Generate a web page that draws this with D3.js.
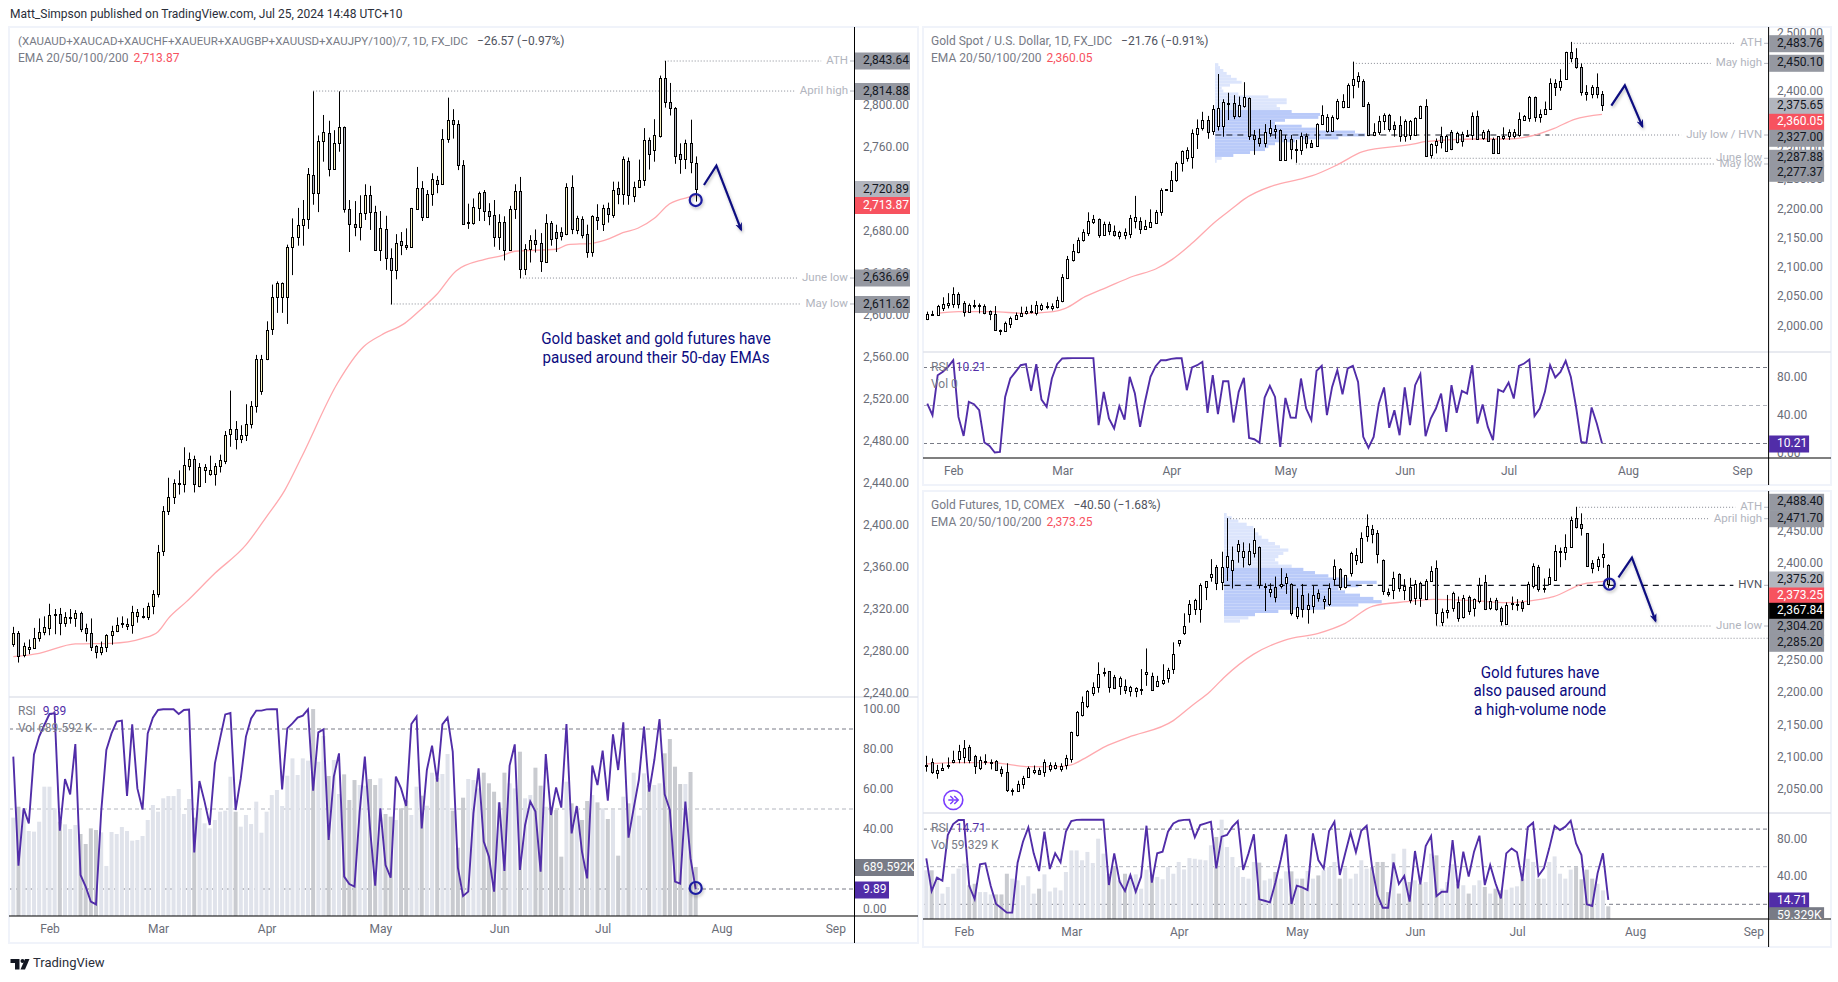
<!DOCTYPE html>
<html>
<head>
<meta charset="utf-8">
<script src="https://cdn.jsdelivr.net/npm/d3@7"></script>
<style>
html, body { margin: 0; background: #fff; }
svg { display: block; }
text { font-family: Roboto, "Noto Sans", sans-serif; }
</style>
</head>
<body>
<script>
// ---- data ----
var months = ["Feb", "Mar", "Apr", "May", "Jun", "Jul", "Aug", "Sep"];

// basket, daily [open, high, low, close]
var basketOhlc = [
[2287,2303,2284,2297],[2297,2299,2269,2275],[2276,2288,2274,2285],[2282,2291,2277,2284],[2283,2302,2282,2292],[2292,2311,2289,2298],[2298,2313,2295,2303],[2302,2325,2295,2314],[2314,2320,2296,2315],[2315,2321,2295,2307],
[2307,2317,2303,2312],[2312,2320,2306,2312.5],[2311,2319,2303,2316],[2316,2317.5,2298,2301],[2302,2306,2289,2297],[2297,2311,2280,2284],[2284.5,2285.5,2273,2279],[2279,2289,2276,2283.5],[2283.5,2296,2279,2295],[2295,2304,2286,2299],
[2299,2312,2298,2305],[2306,2313,2302,2307],[2304,2311,2300,2306],[2304.5,2323,2296.5,2317],[2313,2320,2307,2317],[2312,2321,2311,2313],[2312,2326,2309.5,2322.5],[2322.5,2338,2315,2334],[2334,2381,2331,2374],[2375,2418,2370.5,2413],
[2413,2445,2409.5,2427],[2427,2443.5,2420,2440],[2439.5,2452,2429,2440],[2439,2474,2431,2457],[2456.5,2469,2452,2462.5],[2462.5,2466,2431,2439],[2437.5,2459,2436,2455],[2452,2458,2440,2455],[2449,2466,2447,2452],[2449,2459,2437.5,2456],
[2456,2467,2450,2461.5],[2461,2489.5,2458,2486],[2486.5,2528,2474.5,2491],[2491,2499,2472,2482],[2482,2495,2478,2485.5],[2485.5,2515,2480,2496],[2496,2518,2492,2513],[2513,2562,2507,2558],[2528,2562,2524,2558],[2558,2594,2557,2586],
[2587,2629,2581,2617],[2617,2632,2602,2630.5],[2617,2631,2602,2630.5],[2617,2667,2591.5,2665],[2664.5,2692,2638,2674],[2674,2702,2666,2686],[2686,2709.5,2666,2691],[2691,2740,2682,2734],[2733,2813,2705,2716],[2716,2771,2698,2766],
[2766,2790.5,2746,2774],[2773,2785,2732,2739],[2739.5,2776,2739,2763.5],[2763.5,2813,2755.5,2779],[2779,2779.5,2697.5,2700.5],[2700.5,2709.5,2660,2687],[2687,2708.5,2675,2683.5],[2683.5,2714,2671,2697],[2697,2724.5,2690.5,2714],[2714,2723,2681,2698],
[2698,2704,2661,2662],[2662,2699,2651.5,2682.5],[2681.5,2694.5,2643,2654],[2654,2663.5,2610,2643],[2643,2677,2634,2669],[2670,2679,2657,2667],[2667,2682.5,2662,2665],[2665,2702,2664,2702],[2701,2741,2700,2721],[2721,2727.5,2689.5,2693],
[2693,2719,2692.5,2715],[2715,2735,2704,2730],[2729,2732.5,2716,2724.5],[2724.5,2777,2724,2768],[2768,2807,2764,2786],[2786,2796,2768,2782],[2782,2785.5,2738,2742.5],[2742.5,2747.5,2687,2687],[2688,2706,2682,2688.5],[2688,2711,2686,2703],
[2702,2717.5,2689.5,2716.5],[2717,2719,2689.5,2699.5],[2699.5,2706.5,2685.5,2694.5],[2695,2709.5,2665,2674],[2674,2696,2662,2689],[2689,2694,2652,2662],[2662,2704,2661,2700.5],[2700.5,2724.5,2691.5,2718],[2718,2731.5,2635,2643.5],[2643.5,2667.5,2638,2662.5],
[2662.5,2676,2650,2671],[2671,2681.5,2659.5,2668],[2669,2678,2641,2651],[2650.5,2696,2650,2688],[2688,2689.5,2666,2672],[2679,2686,2660,2673],[2679,2683.5,2671,2675.5],[2677,2725.5,2676,2721.5],[2721.5,2733,2677,2682],[2681,2694.5,2677,2692],
[2691,2694,2673,2676],[2677,2686,2654.5,2660],[2660,2695,2655.5,2694.5],[2693,2705.5,2681,2690],[2686.5,2705,2680,2701.5],[2701.5,2707,2688,2696],[2695.5,2727,2692.5,2719.5],[2720.5,2727,2705.5,2715],[2715,2751,2705,2749],[2747,2750,2705,2714],
[2713.5,2727,2707.5,2721.5],[2721.5,2748,2721.5,2729],[2729,2778,2723,2767],[2766.5,2769,2738.5,2753],[2757,2786.5,2746,2771],[2770.5,2828,2769,2826],[2825.5,2842,2797.5,2802.5],[2802.5,2821,2790,2797],[2797,2798,2744,2751],[2753,2763.5,2734.5,2748.5],
[2748.5,2767,2739,2763.5],[2763.5,2786,2735,2746],[2745,2751,2708,2720]
];
var basketEmaBars = [0,5,12,19,25,28,30,33.5,39,45,49,52.5,55.8,62.7,67.8,71.2,75.7,79,81.8,85.7,91.2,94.7,97,105,107.3,112,115.3,117.9,120.8,124,126.9,131.1,132];
var basketEmaValues = [2274.6,2277.8,2286.7,2287.3,2292,2298.4,2311.1,2327,2354,2381,2408,2433,2465,2535,2570,2581,2592,2606,2619,2642.2,2653,2656.9,2660.7,2662.6,2667,2668.3,2672.7,2678.4,2682.6,2692.1,2705.7,2712.7,2713.87];
var basketRsi = [76.2,21.7,50.3,42.8,77.3,86.2,92,97.5,97.8,39.2,65,57.3,82.5,17,11.2,3.7,2.3,48.7,79.5,87.8,93.7,94.2,56.5,92.3,60.3,49.8,87.8,95.7,99.5,99.9,99.9,99.9,97.5,99.5,99.7,28.3,64,53.7,42,72.8,85.3,97.3,98,49.5,65.3,86.2,95.3,99.2,99.2,99.8,99.9,99.9,59.8,90.3,92.8,95.7,96.7,99.8,59.2,88.3,89.8,34.5,66.2,77.8,16.2,12.5,11.2,48.7,76.2,40.3,11.7,50.3,22,15.7,66.2,60.3,51.5,92.5,96.2,40.3,69.5,81.7,63.7,92.3,95.7,78.7,20.7,6.5,8.7,47.8,70.3,33.7,26.2,8.7,53.3,19,71.7,82.3,19.5,42,53.7,48.7,18.7,77.5,47,60.8,50.7,92.5,37.8,51.5,28.7,15.3,71.7,62,79.2,54.2,87.3,69.5,93.3,35.7,50.3,64.5,91.2,58.7,74.5,95,57.3,49.5,13.7,12.7,53.7,25.3,9.89];
var basketVol = [1384,1538,1491,1196,1187,1327,1820,1820,1515,1327,1290,1224,1280,1154,1013,1233,1210,1177,704,1182,1154,1252,1196,1060,1069,1126,1351,1562,1468,1656,1688,1688,1787,1435,1646,1384,1491,1304,1233,1351,1468,1482,1960,1468,1257,1421,1294,1609,1172,1468,1702,1773,1548,1974,2218,1984,2218,2186,2912,2171,2533,1970,2195,1717,1993,1632,1913,1843,1834,1928,1843,1937,1435,1398,1351,1515,1623,1421,1820,1693,1552,2017,1946,1998,2279,1482,961,1665,1928,1913,1796,2017,1867,1749,1599,2017,1867,1796,2312,1656,1702,2087,1834,1538,1538,1491,835,1890,1585,1538,1351,1618,1702,1599,1515,1365,1491,849,1679,1585,2017,1412,2007,1843,1843,1867,2289,2490,2101,1857,1857,2026,689.592];
var basketTicks = [2800,2760,2680,2640,2600,2560,2520,2480,2440,2400,2360,2320,2280,2240];
var basketMonthBars = [7,28,49,71,94,114,137,159];
var basketLevelLabels = ["ATH", "April high", "June low", "May low"];
var basketLevelPrices = [2841.9, 2813.3, 2635.2, 2610.5];
var basketLevelBars = [126, 58, 98, 73];

// gold spot
var spotOhlc = [
[2011.5,2023.5,2009,2019],[2017,2025,2017,2019],[2017,2035,2016,2032.5],[2029,2048,2024.5,2036],[2035,2055,2029,2038],[2037,2065,2030,2053],[2053,2056.5,2029,2037],[2037.5,2041.5,2015,2023.5],[2023.5,2037.5,2021.5,2034],[2033,2043.5,2029,2034],
[2034,2037.5,2020.5,2033],[2033,2036,2019,2020.5],[2024.5,2025.5,2009,2019],[2019,2033,1990.5,1992],[1992,1993,1983.5,1992],[1991,2006.5,1991,2003.5],[2003,2015,1995.5,2012],[2011.5,2022,2011.5,2017],[2016.5,2032,2015.5,2022],[2022,2032,2018.5,2024.5],
[2023,2035,2020.5,2024.5],[2022,2041.5,2017,2034],[2028.5,2037.5,2025,2034],[2031.5,2039.5,2027.5,2033],[2029,2037.5,2025.5,2033],[2032,2049,2029,2043],[2042,2087.5,2039.5,2082],[2081,2118.5,2079,2112.5],[2111.5,2139,2109,2126.5],[2125,2150,2123,2145.5],
[2145.5,2164,2143,2159],[2158,2193,2152.5,2177.5],[2176.5,2188.5,2173,2181],[2181,2182.5,2149.5,2155],[2155,2177,2153.5,2173],[2172.5,2177,2154,2160.5],[2160.5,2170.5,2151.5,2153.5],[2153,2161.5,2147,2159],[2155,2165.5,2147,2159],[2156,2188.5,2149,2184],
[2179,2221,2165.5,2184.5],[2178.5,2184.5,2156,2164],[2164,2180,2163.5,2169],[2168.5,2198,2167,2176.5],[2175,2197,2173,2193],[2193,2234,2187,2230.5],[2231,2232,2231,2232],[2229,2263.5,2228,2248.5],[2248.5,2279.5,2245,2276.5],[2277.5,2298.5,2262.5,2297],
[2286,2304,2279.5,2298.5],[2288,2334.5,2267.5,2327.5],[2326.5,2351.5,2301,2336.5],[2336.5,2364.5,2332.5,2350],[2350,2357.5,2318.5,2330.5],[2331,2376,2325,2368.5],[2341,2429,2332.5,2370.5],[2341,2386,2322,2380.5],[2379,2397,2350.5,2380],[2379,2393,2352,2357.5],
[2358,2390.5,2355,2375.5],[2375,2415,2371.5,2389],[2388.5,2389,2316.5,2324],[2325.5,2333.5,2291,2318.5],[2320,2335.5,2305,2310.5],[2312,2343.5,2304,2329.5],[2329,2350.5,2322,2336.5],[2332,2342,2318.5,2334.5],[2333.5,2334.5,2281,2282],[2282,2325,2281,2318],
[2318,2325,2283.5,2300.5],[2300.5,2316.5,2277.4,2301],[2300,2329,2291,2324],[2324,2327.5,2302,2312],[2312,2316.5,2304,2305],[2306,2345,2305,2343],[2343,2375.5,2343,2358.5],[2332.5,2360.5,2329,2356],[2332.5,2358.5,2332,2355],[2354,2386.5,2350.5,2383.5],
[2373,2394.5,2370.5,2383.5],[2373,2413,2373,2411],[2411,2450.1,2387.5,2421],[2417.5,2432,2405.5,2425.5],[2417.5,2420,2373,2375],[2378,2381,2323,2325],[2325,2345,2323,2330.5],[2330.5,2357.5,2325,2349],[2349.5,2362,2333.5,2359],[2359,2361,2330.5,2335],
[2342,2348,2322,2334.5],[2341.5,2357,2313.5,2324],[2324,2351.5,2313.5,2349],[2324.5,2350.5,2316.5,2349],[2324.5,2355,2324,2353.5],[2353.5,2375,2353,2374.5],[2374,2386,2287.9,2289],[2291,2310.5,2285,2309],[2308,2319,2293.5,2314.5],[2323,2339,2302,2313.5],
[2298,2325,2296.5,2323],[2329.5,2333.5,2299,2301],[2313.5,2330.5,2310.5,2328],[2327,2330.5,2305,2315.5],[2324.5,2333.5,2322,2325.5],[2324.5,2363.5,2316.5,2357.5],[2357.5,2366.5,2316.5,2318],[2319,2333.5,2316.5,2330.5],[2332,2334.5,2313.5,2315.5],[2318,2320.5,2293.5,2295],
[2295,2323,2295,2323],[2319,2338,2316.5,2323],[2324,2334.5,2316.5,2329.5],[2323,2335,2319,2329.5],[2325,2363.5,2322,2351.5],[2350.5,2359,2349.5,2357.5],[2353.5,2391.5,2347.5,2390.5],[2389,2390.5,2347.5,2355],[2356,2368.5,2346,2360],[2360,2382,2359,2368.5],
[2369,2421.5,2367.5,2413],[2413,2420,2391.5,2407.5],[2407.5,2437,2400.5,2417.5],[2420,2467,2419,2466],[2466,2483.8,2449,2456],[2456,2473,2438,2441.5],[2441.5,2447,2392,2397.5],[2397.5,2410,2383.5,2394.5],[2394.5,2410,2387.5,2406],[2406,2430,2387.5,2394.5],[2394.5,2400,2366,2375.65]
];
var spotEmaBars = [1.8,6,12.4,18.8,24.3,26.6,30.4,34.6,39.8,44,47.2,51,55.5,58.8,61,66.8,71.6,74.2,79,83.9,93.8,95.8,105.4,111.8,116.3,120.8,124.7,130];
var spotEmaValues = [2020.6,2023.4,2023.4,2020.6,2023.4,2029,2049,2065,2084.3,2096.2,2112.7,2140,2177,2199.8,2215.1,2239,2249.2,2255.5,2274,2296.5,2309.6,2313.6,2318.1,2318.1,2323.2,2336.3,2351.7,2360.05];
var spotRsi = [52,39.8,81.9,85.4,90.7,97.7,38,18,53.8,51.4,45,11,7.5,0.5,1.2,59,78.4,85.4,92.4,93.5,65.4,93.5,56.3,48.6,78.4,93.5,99.5,99.8,99.9,99.9,99.9,99.9,99.9,29.3,64.4,36.3,25.8,49.3,35.2,80.2,62.6,27.5,55.6,80.2,91.4,97.7,97.7,99.1,99.8,99.9,66.1,90,92.4,96,42.3,81.9,40.9,75.6,75.6,32.1,64.4,79.1,15.9,14.5,10.7,58.4,70.7,59,6.5,58,37.3,37,78.4,46.8,34.5,86.5,91.8,39.8,69.6,87.2,61.9,89,91.8,74.9,17,5.4,17,52,69,26.5,45,18.7,69,29.3,71.4,83,17.7,36.3,46.8,62.6,22.2,71.4,42.3,65.4,62.6,92.4,31,51,27.5,13.5,66.8,64.4,74.2,57.3,91.8,94.2,98.4,38.8,46.8,64.4,92.4,79.5,85.4,97,80,48.6,11.7,10.7,47.9,31,10.21];
var spotProfilePrices = [2445,2440,2435,2430,2425,2420,2415,2410,2405,2400,2395,2390,2385,2380,2375,2370,2365,2360,2355,2350,2345,2340,2335,2330,2325,2320,2315,2310,2305,2300,2295,2290,2285,2280];
var spotProfileVol = [10,15,25,35,48,65,80,45,20,25,70,160,215,215,185,195,230,315,310,210,180,260,310,420,450,370,240,180,160,150,105,55,20,5];
var spotTicks = [2500,2400,2300,2250,2200,2150,2100,2050,2000];
var spotMonthBars = [5,26,47,69,92,112,135,157];
var spotLevelLabels = ["ATH", "May high", "July low / HVN", "June low", "May low"];
var spotLevelPrices = [2481.4, 2447.1, 2324.9, 2285.2, 2275.4];
var spotLevelBars = [124, 82, 119.8, 97, 71];

// gold futures
var futuresOhlc = [
[2085,2101,2076.5,2087],[2092,2097,2073,2075.5],[2075,2087,2065.5,2078.5],[2078.5,2089.5,2078,2081.5],[2086.5,2098.5,2081,2087],[2092,2109,2089.5,2094.5],[2096,2118,2089.5,2109],[2100,2125.5,2089.5,2112.5],[2114,2118,2089.5,2094.5],[2100.5,2102.5,2073,2084.5],
[2082.5,2100,2079,2094],[2093,2103.5,2087,2093.5],[2089.5,2095.5,2080,2092],[2092.5,2094.5,2078,2079],[2080,2084.5,2068.5,2075],[2075.5,2089.5,2045,2048],[2046.5,2050.5,2039.5,2048],[2047,2062.5,2045.5,2057],[2058,2070,2050,2066],[2068.5,2084.5,2067,2081.5],
[2076,2086,2072.5,2078.5],[2078.5,2082.5,2072.5,2072.5],[2075.5,2095.5,2068.5,2091],[2081,2091,2076.5,2087],[2082.5,2091,2080,2086.5],[2081,2089.5,2076.5,2084.5],[2086.5,2102.5,2080,2097],[2095.5,2138.5,2090.5,2137.5],[2133,2170.5,2131,2169],[2164.5,2193,2162,2184],
[2178.5,2203,2175,2201],[2199,2215,2194,2207.5],[2208.5,2246,2199,2228],[2230,2237.5,2224,2231],[2232,2232.5,2199,2208.5],[2223,2226.5,2204.5,2205.5],[2210,2224,2195.5,2221],[2209,2219.5,2197,2203.5],[2202,2209.5,2193,2207.5],[2202,2207.5,2192,2205.5],
[2204,2235.5,2195.5,2204.5],[2227.5,2267.5,2209.5,2231.5],[2225.5,2230,2202,2202.5],[2209,2225,2207.5,2217.5],[2214,2243,2211,2219],[2221,2237.5,2214.5,2234],[2236,2277,2228,2258.5],[2276.5,2280.5,2270.5,2280],[2291.5,2322,2288.5,2302],[2321.5,2342.5,2307.5,2336.5],
[2328,2344.5,2319.5,2342.5],[2329,2368.5,2307.5,2366],[2363.5,2372,2342.5,2371.5],[2378.5,2406,2371,2382.5],[2393.5,2397,2358,2368.5],[2371,2417.5,2358,2393.5],[2394.5,2469.5,2372,2411],[2389.5,2425.5,2360.5,2404.5],[2419,2435.5,2400.5,2429],[2409,2432,2393,2418.5],
[2398,2430.5,2396,2418.5],[2415,2454,2408.5,2435],[2424.5,2425.5,2360.5,2366],[2362.5,2368.5,2325.5,2364.5],[2355.5,2368.5,2347,2360],[2362.5,2379,2339,2348],[2365,2392,2360.5,2367],[2368.5,2384,2352,2378],[2367,2368.5,2318.5,2323],[2318.5,2360.5,2313,2331.5],
[2350,2367.5,2315.5,2329],[2329,2353,2306,2334.5],[2333.5,2364.5,2322,2351],[2354,2359,2340,2345],[2341,2349,2328.5,2343.5],[2336.5,2368.5,2333.5,2360.5],[2374.5,2405.5,2366,2395.5],[2390,2392,2358,2363.5],[2362.5,2381.5,2360.5,2381],[2384,2417.5,2379,2415],
[2404.5,2423,2397,2412],[2402,2447.5,2399.5,2438.5],[2442.5,2475.4,2433,2458],[2452,2459,2430.5,2445.5],[2446,2451,2399.5,2413.5],[2404.5,2405.5,2350.5,2357],[2354.5,2360.5,2348,2351.5],[2358,2386.5,2344,2376],[2382.5,2384,2355.5,2361.5],[2358,2375,2342.5,2364.5],
[2362.5,2377,2337.5,2342.5],[2345,2373.5,2335,2367],[2368.5,2371,2332,2345],[2344,2375,2342.5,2372.5],[2372.5,2395,2372.5,2388],[2392.5,2404,2302.8,2322],[2308,2329.5,2302.3,2324.5],[2323.5,2350.5,2314,2326.5],[2330.5,2355.5,2324.5,2353],[2340,2348,2309,2315],
[2317,2350.5,2314,2346.5],[2347.5,2349.5,2319.5,2326],[2330.5,2345,2317,2344],[2341,2377,2337.5,2366],[2371,2381.5,2327,2328],[2330,2346,2327,2341.5],[2343,2346,2326,2328],[2329.5,2332.5,2303,2310],[2306,2339,2305,2335],[2337,2348,2327,2338],
[2334.5,2344,2326,2337],[2339,2342.5,2324.5,2330.5],[2336,2371,2335,2367],[2364.5,2399.5,2360.5,2395],[2394,2397,2355.5,2359.5],[2360.5,2376,2354,2361.5],[2368,2391.5,2367,2378],[2374,2428,2374,2419],[2418.5,2424,2393.5,2419],[2416.5,2444.5,2404.5,2425.5],
[2424.5,2472,2424,2466],[2470.5,2487,2453.5,2456],[2460,2477,2442.5,2453.5],[2446,2446.5,2394.5,2396],[2400.5,2404.5,2384,2391.5],[2396,2410,2387.5,2405.5],[2409,2430.5,2392.5,2413.5],[2396.5,2398,2361.5,2367.84]
];
var futuresEmaBars = [0,6,12.2,15.9,19,24.6,27,29.5,33.3,37.6,46,49.4,52.8,55.6,60.9,66.8,73,78,83.2,89.5,94.4,101.9,108,114.3,116.8,122,126.7,127];
var futuresEmaValues = [2088.4,2090.5,2090.5,2086.9,2084.3,2084.3,2086.9,2097.2,2115.3,2129.7,2155.6,2178.3,2200.5,2223.8,2258.4,2280.6,2291,2306.5,2333.3,2340,2343.6,2341.6,2338.5,2343.6,2347.8,2366.9,2372.6,2373.25];
var futuresRsi = [58.9,24.1,38.3,35.1,83.7,95.4,99.7,99.7,29.4,15.6,52.5,53.6,29.4,10.3,5.7,1.1,1.1,54.3,76.6,91.9,64.2,45.4,87.3,47.5,64.2,54.6,87.3,98.6,99.8,99.9,99.9,99.9,99.9,99.9,30.5,64.2,34,24.1,41.2,23.4,39.4,93.6,33,64.2,66,87.3,96.1,98.9,99.8,99.9,81.2,94.3,96.1,97.9,48.2,81.9,83.7,92.6,98.6,46.5,64.2,84.4,15.3,13.8,12.1,33,57.1,84.4,10.3,29.8,28,25.2,85.5,57.1,48.2,88,97.9,41.2,64,86.2,65.3,88.3,93.6,50,19.9,6.4,6.4,54.6,31.6,40.1,12.8,66.7,31.2,72,82.6,18.8,23.4,23.4,78.4,27,66,39.4,66,83,30.5,51.8,32.3,16.3,64.2,69.5,65.3,34.8,91.9,96.8,40.4,48.2,69.5,93.3,89,92.6,98.9,74.8,62.4,9.9,8.2,42.9,64.2,14.71];
var futuresVol = [228,228,197,119,150,212,236,259,158,165,126,126,115,115,115,212,189,181,158,200,119,142,209,129,147,134,220,321,321,275,314,262,376,306,212,243,181,212,204,209,142,231,209,197,186,243,212,267,232,285,282,278,275,345,384,465,337,290,243,197,189,267,264,181,189,220,189,223,223,189,189,225,189,204,228,243,267,189,240,189,212,275,236,243,267,267,126,306,119,329,173,181,165,173,306,298,142,173,256,165,158,119,158,181,150,119,142,134,137,147,153,189,282,267,189,189,267,293,212,189,231,243,186,231,189,165,134,59.329];
var futuresProfilePrices = [2475,2470,2465,2460,2455,2450,2445,2440,2435,2430,2425,2420,2415,2410,2405,2400,2395,2390,2385,2380,2375,2370,2365,2360,2355,2350,2345,2340,2335,2330,2325,2320,2315,2310];
var futuresProfileVol = [8,23,43,68,88,93,103,113,133,153,168,193,178,163,153,163,203,238,273,313,373,458,403,343,363,408,448,473,403,303,163,93,73,48];
var futuresTicks = [2450,2400,2250,2200,2150,2100,2050];
var futuresMonthBars = [7,27,47,69,91,110,132,154];
var futuresLevelLabels = ["ATH", "April high", "HVN", "June low", ""];
var futuresLevelPrices = [2486.4, 2468.7, 2365.4, 2302.3, 2283.3];
var futuresLevelBars = [121, 56, 55.4, 95, 71];

// ---- page ----
var width = 1838, height = 982;
var svg = d3.select("body").append("svg").attr("width", width).attr("height", height);
var defs = svg.append("defs");

var gray = "#787b86", levelGray = "#b2b5be", navy = "#0b0b80", rsiColor = "#512da8";
var pillStyles = {
  level: {fill: "#9598a1", text: "#131722"},
  last: {fill: "#b2b5be", text: "#131722"},
  ema: {fill: "#f7525f", text: "#fff"},
  price: {fill: "#000", text: "#fff"},
  rsi: {fill: rsiColor, text: "#fff"},
  vol: {fill: "#787b86", text: "#fff"}
};

defs.append("marker").attr("id", "head").attr("viewBox", "0 0 10 10")
  .attr("refX", 8).attr("refY", 5).attr("markerWidth", 4).attr("markerHeight", 4)
  .attr("orient", "auto-start-reverse").attr("markerUnits", "strokeWidth")
  .append("path").attr("d", "M0,1 L10,5 L0,9 L3,5 Z").attr("fill", navy);

defs.append("filter").attr("id", "soft")
  .attr("x", "-30%").attr("y", "-30%").attr("width", "160%").attr("height", "160%")
  .append("feDropShadow").attr("dx", 1).attr("dy", 2).attr("stdDeviation", 1.5)
  .attr("flood-color", "#000").attr("flood-opacity", 0.25);

// snap to the pixel grid so candle edges stay crisp
function snap(v) { return Math.round(v) + 0.5; }

function drawPanel(p) {
  var g = svg.append("g");
  var x = d3.scaleLinear().domain(p.barDomain).range(p.barRange);
  var y = d3.scaleLinear().domain(p.priceDomain).range(p.priceRange);
  var yRsi = d3.scaleLinear().domain([0, 100]).range(p.rsiRange);
  var yVol = d3.scaleLinear().domain(p.volDomain).range(p.volRange);

  // clips
  var id = p.id;
  defs.append("clipPath").attr("id", id + "-price").append("rect")
    .attr("x", p.left).attr("y", p.top).attr("width", p.plotRight - p.left).attr("height", p.priceBottom - p.top);
  defs.append("clipPath").attr("id", id + "-rsi").append("rect")
    .attr("x", p.left).attr("y", p.priceBottom).attr("width", p.plotRight - p.left).attr("height", p.rsiBottom - p.priceBottom);
  defs.append("clipPath").attr("id", id + "-axis").append("rect")
    .attr("x", p.plotRight).attr("y", p.top).attr("width", p.right - p.plotRight).attr("height", p.rsiBottom - p.top);

  // volume profile behind the candles
  if (p.profilePrices) {
    var px = d3.scaleLinear().domain(p.profileDomain).range(p.profileRange);
    g.append("g").selectAll("rect").data(p.profilePrices).enter().append("rect")
      .attr("x", px(0))
      .attr("y", (d) => y(d + 2.5))
      .attr("width", (d, i) => px(p.profileVol[i]) - px(0))
      .attr("height", (d) => y(d - 2.5) - y(d + 2.5))
      .attr("fill", (d) => (d <= p.valueArea[1] && d >= p.valueArea[0]) ? "#b9caf9" : "#dce5fc");
  }

  // RSI pane guide lines
  var guides = g.append("g");
  [[90, gray], [50, levelGray], [10, gray]].forEach((r) => {
    guides.append("line").attr("x1", p.left).attr("x2", p.plotRight)
      .attr("y1", yRsi(r[0])).attr("y2", yRsi(r[0]))
      .attr("stroke", r[1]).attr("stroke-dasharray", "4,3");
  });

  // volume
  if (p.vol) {
    g.append("g").attr("clip-path", "url(#" + id + "-rsi)")
      .selectAll("rect").data(p.vol).enter().append("rect")
      .attr("x", (d, i) => x(i) - 2)
      .attr("width", 4)
      .attr("y", (d) => yVol(d))
      .attr("height", (d) => yVol(0) - yVol(d))
      .attr("fill", (d, i) => p.ohlc[i][3] >= p.ohlc[i][0] ? "#e0e3eb" : "#c9cbd0");
  }

  // level lines
  var levelG = g.append("g");
  p.levelPrices.forEach((v, i) => {
    var yy = y(v), label = p.levelLabels[i], dark = p.darkLevels && p.darkLevels.indexOf(i) >= 0;
    var labelRight = p.plotRight - 6.5, textLeft = p.plotRight;
    if (label) {
      var t = levelG.append("text").attr("x", labelRight).attr("y", yy)
        .attr("text-anchor", "end").attr("dominant-baseline", "middle")
        .attr("font-size", 11.5)
        .attr("fill", dark ? "#50535e" : levelGray).text(label);
      textLeft = labelRight - t.node().getComputedTextLength() - 5;
      levelG.append("line").attr("x1", labelRight + 2).attr("x2", p.plotRight)
        .attr("y1", yy).attr("y2", yy).attr("stroke", levelGray);
    }
    var x0 = x(p.levelBars[i]);
    if (dark) {
      levelG.append("line").attr("x1", x0).attr("x2", textLeft).attr("y1", yy).attr("y2", yy)
        .attr("stroke", "#131722").attr("stroke-width", 1.2).attr("stroke-dasharray", "6,5");
    } else {
      levelG.append("line").attr("x1", x0).attr("x2", textLeft).attr("y1", yy).attr("y2", yy)
        .attr("stroke", "#868993").attr("stroke-dasharray", "1,2");
    }
  });
  if (p.pocStart !== undefined) {
    levelG.append("line").attr("x1", x(p.pocStart)).attr("x2", x(p.pocEnd))
      .attr("y1", y(p.pocPrice)).attr("y2", y(p.pocPrice))
      .attr("stroke", "#131722").attr("stroke-width", 1.2).attr("stroke-dasharray", "6,5");
  }

  // EMA
  var emaLine = d3.line().x((d, i) => x(p.emaBars[i])).y((d) => y(d)).curve(d3.curveMonotoneX);
  g.append("path").attr("clip-path", "url(#" + id + "-price)").datum(p.emaValues)
    .attr("d", emaLine).attr("fill", "none").attr("stroke", "#ffa9ae").attr("stroke-width", 1.3);

  // candles
  var candles = g.append("g").attr("clip-path", "url(#" + id + "-price)")
    .selectAll("g").data(p.ohlc).enter().append("g");
  candles.append("line")
    .attr("x1", (d, i) => snap(x(i))).attr("x2", (d, i) => snap(x(i)))
    .attr("y1", (d) => y(d[1])).attr("y2", (d) => y(d[2]))
    .attr("stroke", "#000");
  candles.append("rect")
    .attr("x", (d, i) => snap(x(i)) - 1)
    .attr("width", 2)
    .attr("y", (d) => snap(y(Math.max(d[0], d[3]))))
    .attr("height", (d) => Math.max(1, snap(y(Math.min(d[0], d[3]))) - snap(y(Math.max(d[0], d[3])))))
    .attr("fill", (d) => d[3] >= d[0] ? p.upColor : "#b2b5be")
    .attr("stroke", "#000");

  // RSI line
  var rsiLine = d3.line().x((d, i) => x(i)).y((d) => yRsi(d));
  g.append("path").attr("clip-path", "url(#" + id + "-rsi)").datum(p.rsi)
    .attr("d", rsiLine).attr("fill", "none").attr("stroke", rsiColor).attr("stroke-width", 1.9);

  // frame
  g.append("rect").attr("x", p.left).attr("y", p.top)
    .attr("width", p.right - p.left).attr("height", p.bottom - p.top)
    .attr("fill", "none").attr("stroke", "#f0f3fa").attr("stroke-width", 2);
  g.append("line").attr("x1", p.left).attr("x2", p.right).attr("y1", p.priceBottom).attr("y2", p.priceBottom)
    .attr("stroke", "#e0e3eb").attr("stroke-width", 1.5);
  g.append("line").attr("x1", p.left).attr("x2", p.right).attr("y1", p.rsiBottom).attr("y2", p.rsiBottom)
    .attr("stroke", "#000").attr("stroke-width", 1.2);
  g.append("line").attr("x1", p.plotRight).attr("x2", p.plotRight).attr("y1", p.top).attr("y2", p.bottom)
    .attr("stroke", "#000");

  // axes
  var priceAxis = d3.axisRight(y).tickValues(p.ticks).tickSize(0).tickPadding(8.5).tickFormat(d3.format(",.2f"));
  var rsiAxis = d3.axisRight(yRsi).tickValues(p.rsiTicks).tickSize(0).tickPadding(8.5).tickFormat(d3.format(".2f"));
  var timeAxis = d3.axisBottom(x).tickValues(p.monthBars).tickSize(0).tickPadding(8.5)
    .tickFormat((d, i) => months[i]);

  [g.append("g").attr("transform", "translate(" + p.plotRight + ",0)").call(priceAxis),
   g.append("g").attr("transform", "translate(" + p.plotRight + ",0)").call(rsiAxis),
   g.append("g").attr("transform", "translate(0," + p.rsiBottom + ")").call(timeAxis)].forEach((a) => {
    a.select(".domain").remove();
    a.selectAll("text").attr("font-family", "Roboto, sans-serif").attr("font-size", 12).attr("fill", "#6a6d78");
  });

  // price and indicator tags
  var pills = g.append("g").attr("clip-path", "url(#" + id + "-axis)");
  p.pills.forEach((d) => {
    var st = pillStyles[d[1]];
    pills.append("rect").attr("x", p.plotRight + 0.5).attr("y", d[2] - 8.5)
      .attr("width", d[3] || 55).attr("height", 17).attr("fill", st.fill);
    pills.append("text").attr("x", p.plotRight + 8.5).attr("y", d[2])
      .attr("dominant-baseline", "middle").attr("font-size", 12).attr("fill", st.text).text(d[0]);
  });

  // legend text
  var legend = g.append("g").attr("font-size", 12);
  var tx = legend.append("text").attr("x", p.textX).attr("y", p.headerY).attr("dominant-baseline", "middle");
  tx.append("tspan").attr("fill", gray).attr("font-size", p.titleSize || 12).text(p.title);
  tx.append("tspan").attr("fill", "#50535e").attr("dx", 9).text(p.change);
  var tx2 = legend.append("text").attr("x", p.textX).attr("y", p.headerY + 17).attr("dominant-baseline", "middle");
  tx2.append("tspan").attr("fill", gray).text("EMA 20/50/100/200");
  tx2.append("tspan").attr("fill", "#f7525f").attr("dx", 5).text(p.emaText);
  var tx3 = legend.append("text").attr("x", p.textX).attr("y", p.rsiLabelY).attr("dominant-baseline", "middle");
  tx3.append("tspan").attr("fill", gray).text("RSI");
  tx3.append("tspan").attr("fill", rsiColor).attr("dx", 7).text(p.rsiText);
  legend.append("text").attr("x", p.textX).attr("y", p.rsiLabelY + 17).attr("dominant-baseline", "middle")
    .attr("fill", gray).text(p.volText);

  // hand drawn arrow and circles
  var annot = g.append("g").attr("filter", "url(#soft)");
  annot.append("path").datum(p.arrow)
    .attr("d", d3.line().x((d) => x(d[0])).y((d) => y(d[1])))
    .attr("fill", "none").attr("stroke", navy).attr("stroke-width", 2.2)
    .attr("marker-end", "url(#head)");
  (p.circles || []).forEach((c) => {
    annot.append("circle").attr("cx", x(c[0])).attr("cy", c[2] ? yRsi(c[1]) : y(c[1])).attr("r", c[3] || 5.5)
      .attr("fill", "none").attr("stroke", "#1c1ca0").attr("stroke-width", 2.2);
  });

  // notes, tall and slightly narrowed like the original drawing tool text
  (p.notes || []).forEach((line, i) => {
    g.append("text")
      .attr("transform", "translate(" + p.noteX + "," + (p.noteY + i * p.noteStep) + ") scale(0.91,1)")
      .attr("text-anchor", "middle").attr("dominant-baseline", "middle")
      .attr("font-family", "Liberation Sans, Arial, sans-serif").attr("font-size", 16.7)
      .attr("fill", navy).text(line);
  });
}

// top line
svg.append("text").attr("x", 10).attr("y", 15).attr("dominant-baseline", "middle")
  .attr("font-size", 12).attr("fill", "#2a2e39")
  .text("Matt_Simpson published on TradingView.com, Jul 25, 2024 14:48 UTC+10");

drawPanel({
  id: "basket", left: 9, right: 918, top: 27, bottom: 943, plotRight: 854.5, priceBottom: 697, rsiBottom: 916,
  barDomain: [0, 132], barRange: [13.3, 695.7],
  priceDomain: [2240, 2800], priceRange: [693, 105],
  rsiRange: [909, 709], volDomain: [0, 3000], volRange: [916, 702.8],
  ohlc: basketOhlc, upColor: "#f8f3c4", emaBars: basketEmaBars, emaValues: basketEmaValues,
  rsi: basketRsi, vol: basketVol, ticks: basketTicks, rsiTicks: [100, 80, 60, 40, 0], monthBars: basketMonthBars,
  levelLabels: basketLevelLabels, levelPrices: basketLevelPrices, levelBars: basketLevelBars,
  pills: [["2,843.64", "level", 61], ["2,814.88", "level", 91.5], ["2,720.89", "last", 189.5], ["2,713.87", "ema", 205.5],
    ["2,636.69", "level", 278], ["2,611.62", "level", 304.5], ["689.592K", "vol", 867.5, 59], ["9.89", "rsi", 890, 34]],
  textX: 18, headerY: 42, title: "(XAUAUD+XAUCAD+XAUCHF+XAUEUR+XAUGBP+XAUUSD+XAUJPY/100)/7, 1D, FX_IDC", titleSize: 11.5,
  change: "\u221226.57 (\u22120.97%)", emaText: "2,713.87", rsiLabelY: 712, rsiText: "9.89", volText: "Vol  689.592 K",
  arrow: [[133.6, 2723.8], [136, 2742.2], [140.8, 2681]],
  circles: [[132, 2709.5, false, 6], [132, 10.5, true, 6]],
  notes: ["Gold basket and gold futures have", "paused around their 50-day EMAs"], noteX: 656, noteY: 340, noteStep: 18.5
});

drawPanel({
  id: "spot", left: 923, right: 1831, top: 27, bottom: 485, plotRight: 1768.6, priceBottom: 352, rsiBottom: 458,
  barDomain: [0, 130], barRange: [927.3, 1602],
  priceDomain: [2000, 2400], priceRange: [325.4, 91],
  rsiRange: [453, 358], volDomain: [0, 1], volRange: [458, 358],
  ohlc: spotOhlc, upColor: "#fff", emaBars: spotEmaBars, emaValues: spotEmaValues,
  rsi: spotRsi, ticks: spotTicks, rsiTicks: [80, 40, 0], monthBars: spotMonthBars,
  levelLabels: spotLevelLabels, levelPrices: spotLevelPrices, levelBars: spotLevelBars,
  profilePrices: spotProfilePrices, profileVol: spotProfileVol, profileDomain: [0, 450], profileRange: [1215, 1365], valueArea: [2290, 2365],
  pocStart: 55.5, pocEnd: 119.8, pocPrice: 2324.9,
  pills: [["2,483.76", "level", 43.7], ["2,450.10", "level", 63.3], ["2,375.65", "last", 106.3], ["2,360.05", "ema", 122.3],
    ["2,327.00", "level", 138.3], ["2,287.88", "level", 158.3], ["2,277.37", "level", 173.3], ["10.21", "rsi", 444, 40]],
  textX: 931, headerY: 42, title: "Gold Spot / U.S. Dollar, 1D, FX_IDC",
  change: "\u221221.76 (\u22120.91%)", emaText: "2,360.05", rsiLabelY: 367.7, rsiText: "10.21", volText: "Vol  0",
  arrow: [[131.8, 2374.9], [134.4, 2409.7], [137.8, 2339.1]]
});

drawPanel({
  id: "futures", left: 923, right: 1831, top: 491, bottom: 947, plotRight: 1768.6, priceBottom: 813, rsiBottom: 919,
  barDomain: [0, 127], barRange: [926.3, 1608.3],
  priceDomain: [2050, 2400], priceRange: [788.75, 563],
  rsiRange: [913.7, 819.7], volDomain: [0, 500], volRange: [919, 812.2],
  ohlc: futuresOhlc, upColor: "#fff", emaBars: futuresEmaBars, emaValues: futuresEmaValues,
  rsi: futuresRsi, vol: futuresVol, ticks: futuresTicks, rsiTicks: [80, 40], monthBars: futuresMonthBars,
  levelLabels: futuresLevelLabels, levelPrices: futuresLevelPrices, levelBars: futuresLevelBars, darkLevels: [2],
  profilePrices: futuresProfilePrices, profileVol: futuresProfileVol, profileDomain: [0, 473], profileRange: [1224, 1381.7], valueArea: [2320, 2392],
  pills: [["2,488.40", "level", 502.3], ["2,471.70", "level", 518.7], ["2,375.20", "last", 580], ["2,373.25", "ema", 596],
    ["2,367.84", "price", 611.3], ["2,304.20", "level", 627.3], ["2,285.20", "level", 643.3], ["14.71", "rsi", 901, 40], ["59.329K", "vol", 915.7]],
  textX: 931, headerY: 505.7, title: "Gold Futures, 1D, COMEX",
  change: "\u221240.50 (\u22121.68%)", emaText: "2,373.25", rsiLabelY: 829, rsiText: "14.71", volText: "Vol  59.329 K",
  arrow: [[128.9, 2377.8], [131.4, 2408.2], [135.8, 2310.1]],
  circles: [[127.2, 2367.4, false, 5.5]],
  notes: ["Gold futures have", "also paused around", "a high-volume node"], noteX: 1540, noteY: 673.3, noteStep: 18.4
});

// replay badge on the futures pane
var replay = svg.append("g").attr("transform", "translate(953.3,800)");
replay.append("circle").attr("r", 9.5).attr("fill", "#fff").attr("stroke", "#7a3cff").attr("stroke-width", 1.6);
replay.append("path").attr("d", "M-5,0 H5 M1,-4 L5,0 L1,4 M-3,-4 L0,-1 M-3,4 L0,1")
  .attr("fill", "none").attr("stroke", "#7a3cff").attr("stroke-width", 1.4);

// TradingView mark
var logo = svg.append("g").attr("fill", "#131722");
logo.append("path").attr("d", "M10.5,959 H19.5 V969.5 H15 V963 H10.5 Z");
logo.append("circle").attr("cx", 22.5).attr("cy", 961).attr("r", 2);
logo.append("path").attr("d", "M25,959 H29.5 L25,969.5 H20.5 Z");
svg.append("text").attr("x", 33).attr("y", 964).attr("dominant-baseline", "middle")
  .attr("font-size", 13).attr("fill", "#2a2e39").text("TradingView");
</script>
</body>
</html>
